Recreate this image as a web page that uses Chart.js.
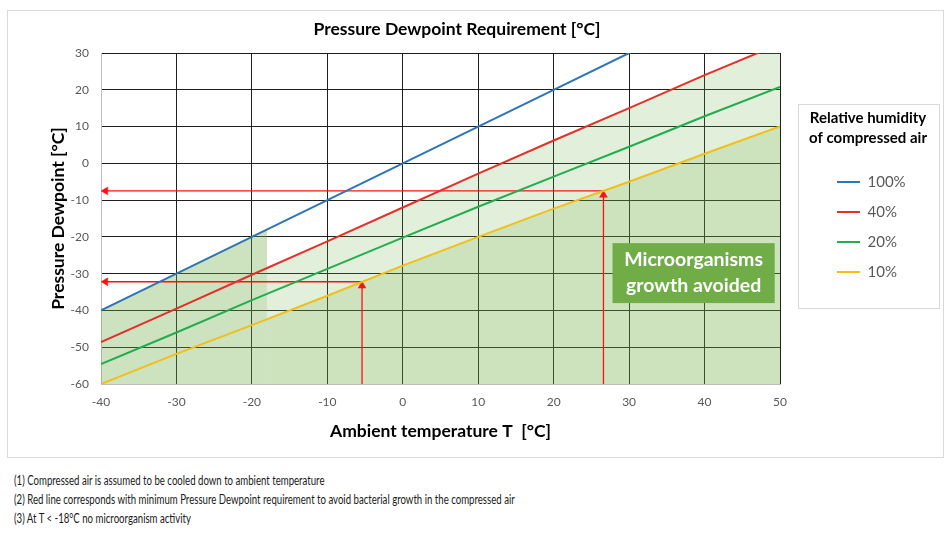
<!DOCTYPE html>
<html><head><meta charset="utf-8">
<script src="https://cdn.jsdelivr.net/npm/chart.js@4.4.0/dist/chart.umd.min.js"></script>
<style>
html,body{margin:0;padding:0;background:#fff;}
body{width:952px;height:535px;position:relative;overflow:hidden;font-family:Lato, sans-serif;}
#frame{position:absolute;left:7px;top:10px;width:935px;height:446px;border:1px solid #d9d9d9;}
#c{position:absolute;left:0;top:0;}
#notes{position:absolute;left:14px;top:471px;font-size:12.5px;line-height:19px;color:#1a1a1a;white-space:nowrap;font-family:Lato, sans-serif;transform:scaleX(0.77);transform-origin:0 0;}
</style></head><body>
<div id="frame"></div>
<canvas id="c" width="952" height="460"></canvas>
<div id="notes">
<div>(1) Compressed air is assumed to be cooled down to ambient temperature</div>
<div>(2) Red line corresponds with minimum Pressure Dewpoint requirement to avoid bacterial growth in the compressed air</div>
<div>(3) At T &lt; -18°C no microorganism activity</div>
</div>
<script>
// ---- data ----
const temps = [-40, -30, -20, -10, 0, 10, 20, 30, 40, 50];
const rh100 = [-40, -30, -20, -10, 0, 10, 20, 30, 40, 50];
const rh40  = [-48.6, -39.5, -30.3, -21.2, -12.0, -2.8, 6.2, 15.0, 24.0, 32.5];
const rh20  = [-54.6, -46.0, -37.2, -28.7, -20.2, -11.8, -3.6, 4.5, 12.8, 20.8];
const rh10  = [-60.0, -51.8, -44.0, -36.0, -27.8, -20.0, -12.3, -5.0, 2.6, 10.0];
const seriesLabels = ['100%', '40%', '20%', '10%'];
const xTickValues = [-40, -30, -20, -10, 0, 10, 20, 30, 40, 50];
const yTickValues = [-60, -50, -40, -30, -20, -10, 0, 10, 20, 30];

// shaded zones (top edges)
const coldZoneX = [-40, -30, -20, -18];
const coldZoneY = [-40, -30, -20, -18];
const safeZoneX = [-18, -10, 0, 10, 20, 30, 40, 47.2, 50];
const safeZoneY = [-28.5, -21.2, -12.0, -2.8, 6.2, 15.0, 24.0, 30, 30];
const dryZoneX  = [-18, -10, 0, 10, 20, 30, 40, 50];
const dryZoneY  = [-42.4, -36.0, -27.8, -20.0, -12.3, -5.0, 2.6, 10.0];

// reading guides (red arrows)
const guideAUpX = [26.6, 26.6],  guideAUpY = [-60, -8.6];
const guideALeftX = [26.6, -39.4], guideALeftY = [-7.5, -7.5];
const guideBUpX = [-5.4, -5.4],  guideBUpY = [-60, -33.3];
const guideBLeftX = [-5.4, -39.4], guideBLeftY = [-32.2, -32.2];

// note box
const noteX = [27.8, 49.3];
const noteY = [-21.7, -38.0];
const noteText = ['Microorganisms', 'growth avoided'];
const legendTitle = ['Relative humidity', 'of compressed air'];

const pts = (xs, ys) => xs.map((x, i) => ({x: x, y: ys[i]}));

Chart.defaults.font.family = 'Lato, sans-serif';

const lineColors = ['#2e75b6', '#e4302a', '#22ad50', '#f2bf17'];
const seriesData = [rh100, rh40, rh20, rh10];

const lineSets = seriesData.map((arr, i) => ({
  label: seriesLabels[i], data: pts(temps, arr), borderColor: lineColors[i], backgroundColor: lineColors[i],
  borderWidth: 2, pointRadius: 0, tension: 0, fill: false, order: 1, isSeries: true,
  xAxisID: 'x', yAxisID: 'y'
}));

function guide(xs, ys, rot) {
  return { label: 'guide', data: pts(xs, ys), borderColor: '#ff1010', backgroundColor: '#ff1010',
    borderWidth: 1.3, pointRadius: [0, 4.5], pointStyle: 'triangle', pointRotation: rot,
    pointBorderWidth: 0.5, pointBorderColor: '#ff1010', pointBackgroundColor: '#ff1010',
    fill: false, tension: 0, order: 2, xAxisID: 'x', yAxisID: 'y' };
}
function zone(xs, ys, color) {
  return { label: 'zone', data: pts(xs, ys), borderColor: 'transparent', borderWidth: 0,
    backgroundColor: color, pointRadius: 0, fill: 'start', tension: 0, order: 5, xAxisID: 'x', yAxisID: 'y' };
}

const LEGEND_W = 92;
const decor = {
  id: 'decor',
  beforeLayout(chart) {
    const lg = chart.legend;
    if (lg && !lg._wPatched) {
      const f = lg.fit;
      lg.fit = function () { f.call(this); this.width = LEGEND_W; };
      lg.draw = function () { if (this.options.display) { this._draw(); } };
      lg._wPatched = true;
    }
  },
  afterDatasetsDraw(chart) {
    const {ctx, scales: {x, y}} = chart;
    const x0 = x.getPixelForValue(noteX[0]), x1 = x.getPixelForValue(noteX[1]);
    const y0 = y.getPixelForValue(noteY[0]), y1 = y.getPixelForValue(noteY[1]);
    ctx.save();
    ctx.fillStyle = '#70ad47';
    ctx.fillRect(x0, y0, x1 - x0, y1 - y0);
    ctx.fillStyle = '#ffffff';
    ctx.font = 'bold 19.5px Lato, sans-serif';
    ctx.textAlign = 'center';
    ctx.textBaseline = 'middle';
    const cy = (y0 + y1) / 2;
    ctx.fillText(noteText[0], (x0 + x1) / 2, cy - 13);
    ctx.fillText(noteText[1], (x0 + x1) / 2, cy + 13);
    ctx.restore();
  },
  afterDraw(chart) {
    const lg = chart.legend;
    if (!lg) return;
    const ctx = chart.ctx;
    ctx.save();
    ctx.strokeStyle = '#d9d9d9';
    ctx.lineWidth = 1;
    ctx.strokeRect(Math.round(lg.left - 24) + 0.5, Math.round(lg.top + 51) + 0.5, 141, 204);
    ctx.restore();
  }
};

new Chart(document.getElementById('c'), {
  type: 'line',
  data: {
    datasets: [
      ...lineSets,
      guide(guideAUpX, guideAUpY, 0),
      guide(guideALeftX, guideALeftY, 270),
      guide(guideBUpX, guideBUpY, 0),
      guide(guideBLeftX, guideBLeftY, 270),
      zone(coldZoneX, coldZoneY, 'rgba(112,173,71,0.35)'),
      zone(safeZoneX, safeZoneY, 'rgba(112,173,71,0.2)'),
      zone(dryZoneX, dryZoneY, 'rgba(112,173,71,0.1875)')
    ]
  },
  options: {
    responsive: false,
    animation: false,
    events: [],
    layout: { padding: { left: 0, right: 38, top: 10, bottom: 14 } },
    scales: {
      x: {
        type: 'linear', position: 'bottom', min: xTickValues[0], max: xTickValues[xTickValues.length - 1],
        afterBuildTicks: (s) => { s.ticks = xTickValues.map(v => ({value: v})); },
        afterFit: (s) => { s.height = 62; },
        grid: { color: '#1f1f1f', lineWidth: 1, drawTicks: false },
        border: { display: true, color: '#bfbfbf' },
        ticks: { font: { size: 12 }, color: '#595959', padding: 11 },
        title: { display: true, text: 'Ambient temperature T  [°C]', font: { size: 17.5, weight: 'bold' }, color: '#000', padding: { top: 0, bottom: 3.8 } }
      },
      y: {
        type: 'linear', position: 'left', min: yTickValues[0], max: yTickValues[yTickValues.length - 1],
        afterBuildTicks: (s) => { s.ticks = yTickValues.map(v => ({value: v})); },
        afterFit: (s) => { s.width = 101; },
        grid: { color: '#1f1f1f', lineWidth: 1, drawTicks: false },
        border: { display: true, color: '#bfbfbf' },
        ticks: { font: { size: 12 }, color: '#595959', padding: 12 },
        title: { display: true, text: 'Pressure Dewpoint [°C]', font: { size: 17.5, weight: 'bold' }, color: '#000', padding: { top: 47.5, bottom: 0 } }
      },
      y2: {
        type: 'linear', position: 'right', display: true,
        grid: { display: false }, border: { display: false }, ticks: { display: false },
        afterFit: (s) => { s.width = 42; }
      }
    },
    plugins: {
      title: { display: true, text: 'Pressure Dewpoint Requirement [°C]', font: { size: 17.5, weight: 'bold' }, color: '#000', padding: { top: 8.5, bottom: 13.5 } },
      legend: {
        display: true, position: 'right', align: 'start', fullSize: false,
        title: { display: true, text: legendTitle, color: '#000', font: { size: 15, weight: 'bold', lineHeight: 1.333 }, padding: { top: 57.5, bottom: 29 } },
        labels: {
          filter: (item, data) => data.datasets[item.datasetIndex].isSeries === true,
          usePointStyle: true, pointStyle: 'line', pointStyleWidth: 23,
          font: { size: 15 }, color: '#595959', padding: 15
        }
      },
      tooltip: { enabled: false }
    }
  },
  plugins: [decor]
});
</script>
</body></html>
